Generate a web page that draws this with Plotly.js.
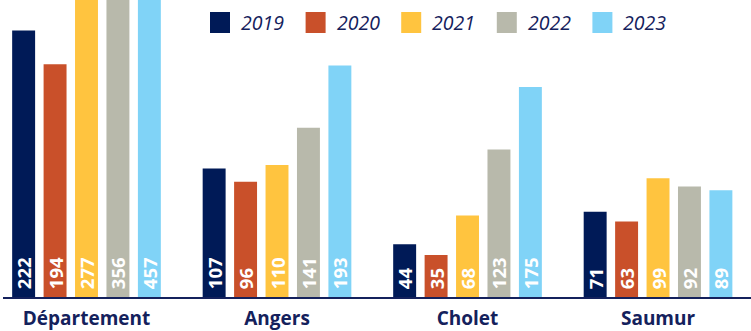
<!DOCTYPE html>
<html><head><meta charset="utf-8">
<script src="https://cdn.plot.ly/plotly-3.0.1.min.js"></script>
<style>html,body{margin:0;padding:0;background:#fff}#chart{width:751px;height:331px}</style>
</head><body><div id="chart"></div>
<script>
const categories = ["Département", "Angers", "Cholet", "Saumur"];
const seriesNames = ["2019", "2020", "2021", "2022", "2023"];
const v2019 = [222, 107, 44, 71];
const v2020 = [194, 96, 35, 63];
const v2021 = [277, 110, 68, 99];
const v2022 = [356, 141, 123, 92];
const v2023 = [457, 193, 175, 89];
const seriesValues = [v2019, v2020, v2021, v2022, v2023];
const colors = ["#001A57", "#C9502A", "#FFC43F", "#B8B9AB", "#80D3F7"];
const navy = "#14215C";

const W = 751, H = 331, ML = 3, MR = 0, MT = 0, MB = 34;
const PW = W - ML - MR, PH = H - MT - MB;

const traces = seriesValues.map((vals, i) => ({
  type: "bar",
  name: seriesNames[i],
  x: categories,
  y: vals,
  text: vals.map(v => "\u00a0" + v),
  textposition: "inside",
  insidetextanchor: "start",
  textangle: -90,
  constraintext: "none",
  textfont: {family: "Open Sans", size: 18.5, color: "#ffffff", weight: 700},
  marker: {color: colors[i], line: {width: 0}},
  hoverinfo: "none"
}));

const shapes = [], annotations = [];
const px2x = p => (p - ML) / PW;
const px2y = p => 1 - (p - MT) / PH;
seriesNames.forEach((n, i) => {
  const x0 = 210 + i * 95.6;
  shapes.push({type: "rect", xref: "paper", yref: "paper",
    x0: px2x(x0), x1: px2x(x0 + 20), y0: px2y(33), y1: px2y(12),
    fillcolor: colors[i], line: {width: 0}});
  annotations.push({xref: "paper", yref: "paper", x: px2x(x0 + 29), y: px2y(22.5),
    xanchor: "left", yanchor: "middle", showarrow: false, text: n,
    font: {family: "Open Sans", size: 19.5, color: navy, style: "italic"}});
});

const layout = {
  width: W, height: H,
  margin: {l: ML, r: MR, t: MT, b: MB, pad: 0},
  paper_bgcolor: "#fff", plot_bgcolor: "#fff",
  showlegend: false,
  barmode: "group",
  bargap: 0.175,
  bargroupgap: 0.27,
  xaxis: {
    range: [-0.4383, 3.488],
    showline: true, linecolor: navy, linewidth: 2,
    ticks: "outside", ticklen: 3, tickcolor: "rgba(0,0,0,0)",
    showgrid: false, zeroline: false,
    tickfont: {family: "Open Sans", size: 19, color: navy, weight: 700},
    fixedrange: true
  },
  yaxis: {
    range: [0, 247.5], visible: false, showgrid: false, zeroline: false, fixedrange: true
  },
  shapes: shapes,
  annotations: annotations
};

Plotly.newPlot("chart", traces, layout, {displayModeBar: false, staticPlot: true});
</script></body></html>
